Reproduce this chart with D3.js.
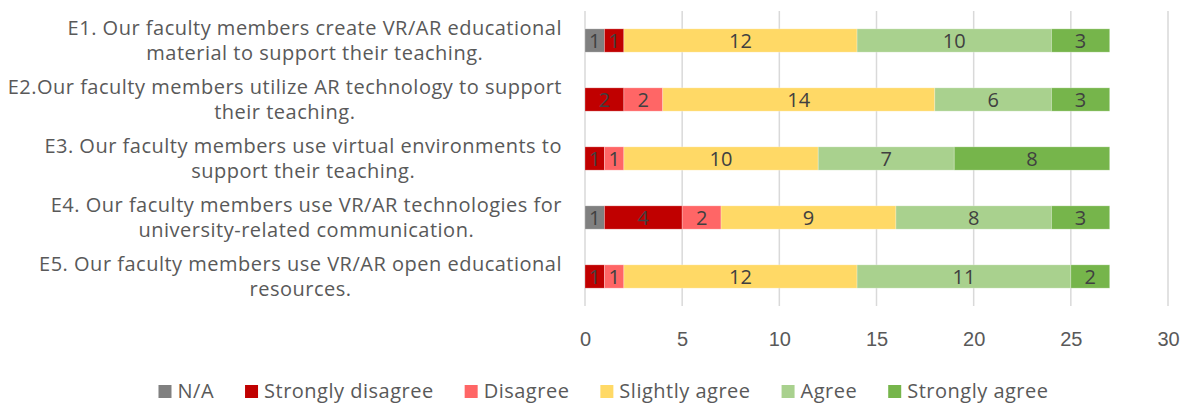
<!DOCTYPE html>
<html>
<head>
<meta charset="utf-8">
<script src="https://cdn.jsdelivr.net/npm/d3@7"></script>
<style>
  html, body { margin: 0; padding: 0; background: #fff; }
  svg { display: block; font-family: "Open Sans", "Noto Sans", sans-serif; }
</style>
</head>
<body>
<svg id="chart" width="1190" height="403"></svg>
<script>
// Survey items (each label is drawn on two lines)
const categories = ["E1", "E2", "E3", "E4", "E5"];
const categoryLines = [
  ["E1. Our faculty members create VR/AR educational", "material to support their teaching."],
  ["E2.Our faculty members utilize AR technology to support", "their teaching."],
  ["E3. Our faculty members use virtual environments to", "support their teaching."],
  ["E4. Our faculty members use VR/AR technologies for", "university-related communication."],
  ["E5. Our faculty members use VR/AR open educational", "resources."]
];

// Response counts per item
const seriesNames = ["N/A", "Strongly disagree", "Disagree", "Slightly agree", "Agree", "Strongly agree"];
const naValues              = [1, 0, 0, 1, 0];
const stronglyDisagreeValues = [1, 2, 1, 4, 1];
const disagreeValues        = [0, 2, 1, 2, 1];
const slightlyAgreeValues   = [12, 14, 10, 9, 12];
const agreeValues           = [10, 6, 7, 8, 11];
const stronglyAgreeValues   = [3, 3, 8, 3, 2];
const seriesColors = ["#808080", "#C00000", "#FF6666", "#FFD966", "#A9D18E", "#76B54B"];

const xTicks = [0, 5, 10, 15, 20, 25, 30];

const seriesValues = [naValues, stronglyDisagreeValues, disagreeValues,
                      slightlyAgreeValues, agreeValues, stronglyAgreeValues];

// Table for d3.stack: one row per item
const rows = categories.map((c, i) => {
  const r = { key: c };
  seriesNames.forEach((s, j) => { r[s] = seriesValues[j][i]; });
  return r;
});
const stacked = d3.stack().keys(seriesNames)(rows);

const svg = d3.select("#chart");
const textColor = "#595959";
const fontSize = 20;
const spacing = "0.5px";

const x = d3.scaleLinear().domain([0, 30]).range([585, 1168]);
const y = d3.scaleBand().domain(categories).range([11, 306])
  .paddingInner(0.605).paddingOuter(0.3025);

// Vertical gridlines
svg.append("g")
  .selectAll("line")
  .data(xTicks)
  .join("line")
  .attr("x1", d => x(d)).attr("x2", d => x(d))
  .attr("y1", 11).attr("y2", 306)
  .attr("stroke", "#D9D9D9")
  .attr("stroke-width", 1.5);

// X axis tick labels
const xAxis = d3.axisBottom(x).tickValues(xTicks).tickSize(0).tickPadding(26);
const gx = svg.append("g").attr("transform", "translate(0,306)").call(xAxis);
gx.select(".domain").remove();
gx.selectAll("text")
  .attr("fill", textColor)
  .style("font-size", fontSize + "px")
  .style("font-family", null);

// Stacked bars
const layers = svg.append("g")
  .selectAll("g")
  .data(stacked)
  .join("g")
  .attr("fill", (d, i) => seriesColors[i]);

layers.selectAll("rect")
  .data(d => d.filter(p => p[1] - p[0] > 0))
  .join("rect")
  .attr("x", d => x(d[0]))
  .attr("y", d => y(d.data.key))
  .attr("width", d => x(d[1]) - x(d[0]))
  .attr("height", y.bandwidth())
  .attr("stroke", "#ffffff")
  .attr("stroke-opacity", 0.35)
  .attr("stroke-width", 0.75);

// Value labels centred in each segment
layers.selectAll("text")
  .data(d => d.filter(p => p[1] - p[0] > 0))
  .join("text")
  .attr("x", d => (x(d[0]) + x(d[1])) / 2)
  .attr("y", d => y(d.data.key) + y.bandwidth() / 2)
  .attr("dy", "0.36em")
  .attr("text-anchor", "middle")
  .attr("fill", "#404040")
  .style("font-size", fontSize + "px")
  .text(d => d[1] - d[0]);

// Category labels: two centred lines, block right-aligned to the plot
const labelRight = 562;
const lineGap = 24.5;
const labelG = svg.append("g").attr("fill", textColor)
  .style("font-size", fontSize + "px").style("letter-spacing", spacing);
categories.forEach((c, i) => {
  const cy = y(c) + y.bandwidth() / 2;
  const g = labelG.append("g");
  const texts = categoryLines[i].map((line, k) =>
    g.append("text")
      .attr("y", cy + (k - 0.5) * lineGap)
      .attr("dy", "0.35em")
      .attr("text-anchor", "middle")
      .text(line));
  const maxW = d3.max(texts, t => t.node().getComputedTextLength());
  texts.forEach(t => t.attr("x", labelRight - maxW / 2));
});

// Legend
const legendG = svg.append("g").style("font-size", fontSize + "px").style("letter-spacing", spacing);
const sq = 13, sqGap = 6, itemGap = 31, legendBase = 398;
const items = seriesNames.map((s, i) => {
  const g = legendG.append("g");
  g.append("rect").attr("width", sq).attr("height", sq)
    .attr("y", legendBase - sq).attr("fill", seriesColors[i]);
  const t = g.append("text").attr("x", sq + sqGap).attr("y", legendBase)
    .attr("fill", textColor).text(s);
  return { g, w: sq + sqGap + t.node().getComputedTextLength() };
});
const totalW = d3.sum(items, d => d.w) + itemGap * (items.length - 1);
let lx = 603.5 - totalW / 2;
items.forEach(it => {
  it.g.attr("transform", `translate(${lx},0)`);
  lx += it.w + itemGap;
});
</script>
</body>
</html>
